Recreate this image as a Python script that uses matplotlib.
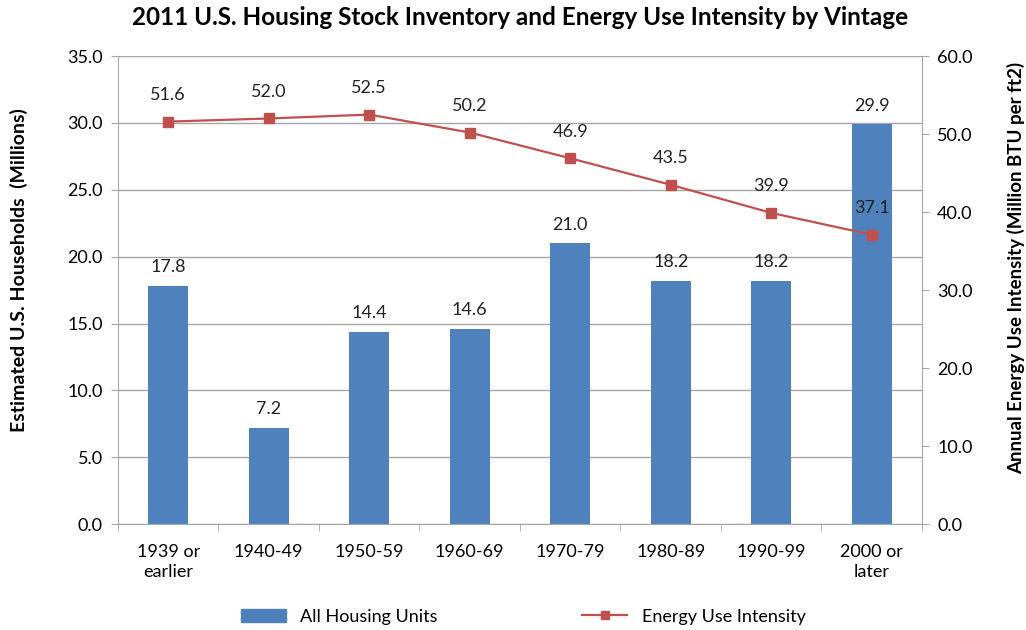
import numpy as np
import matplotlib.pyplot as plt
from matplotlib.lines import Line2D
from matplotlib.patches import Patch

plt.rcParams['font.family'] = ['Lato', 'DejaVu Sans']

# data
vintages = ['1939 or\nearlier', '1940-49', '1950-59', '1960-69',
            '1970-79', '1980-89', '1990-99', '2000 or\nlater']
households = [17.8, 7.2, 14.4, 14.6, 21.0, 18.2, 18.2, 29.9]
intensity = [51.6, 52.0, 52.5, 50.2, 46.9, 43.5, 39.9, 37.1]

BLUE = '#4F81BD'
RED = '#C0504D'
GRID = '#A6A6A6'
FS = 13

fig = plt.figure(figsize=(10.26, 6.3), dpi=100)
ax = fig.add_axes([0.115, 0.168, 0.7836, 0.743])
x = np.arange(len(vintages))

ax.bar(x, households, width=0.4, color=BLUE, zorder=2)
for xi, v in zip(x, households):
    ax.text(xi, v + 0.8, '%.1f' % v, ha='center', va='bottom', fontsize=FS, color='#222222')

ax.set_xlim(-0.5, len(vintages) - 0.5)
ax.set_ylim(0, 35)
ax.set_yticks(np.arange(0, 35.1, 5))
ax.set_yticklabels(['%.1f' % t for t in np.arange(0, 35.1, 5)], fontsize=FS)
ax.yaxis.grid(True, color=GRID, lw=1, zorder=0)
ax.set_axisbelow(True)
ax.set_xticks(x)
ax.set_xticklabels(vintages, fontsize=FS, linespacing=1.35)
ax.set_xticks(np.arange(-0.5, len(vintages)), minor=True)
ax.tick_params(axis='x', which='major', length=0, pad=14)
ax.tick_params(axis='x', which='minor', length=5, color=GRID)
ax.tick_params(axis='y', length=5, color=GRID, pad=6)
for s in ['top', 'right']:
    ax.spines[s].set_visible(False)
for s in ['left', 'bottom']:
    ax.spines[s].set_color(GRID)
ax.set_ylabel('Estimated U.S. Households  (Millions)', fontsize=14, fontweight='bold')
ax.yaxis.set_label_coords(-0.112, 0.543)

ax2 = ax.twinx()
ax2.plot(x, intensity, color=RED, lw=1.6, marker='s', markersize=7, zorder=3)
for xi, v in zip(x, intensity):
    ax2.text(xi, v + 2.4, '%.1f' % v, ha='center', va='bottom', fontsize=FS, color='#222222')
ax2.set_ylim(0, 60)
ax2.set_yticks(np.arange(0, 60.1, 10))
ax2.set_yticklabels(['%.1f' % t for t in np.arange(0, 60.1, 10)], fontsize=FS)
ax2.tick_params(axis='y', length=5, color=GRID, pad=6)
for s in ['top', 'left', 'bottom']:
    ax2.spines[s].set_visible(False)
ax2.spines['right'].set_color(GRID)
ax2.set_ylabel('Annual Energy Use Intensity (Million BTU per ft2)', fontsize=13.5,
               fontweight='bold', rotation=90, va='center')
ax2.yaxis.set_label_coords(1.117, 0.547)

fig.suptitle('2011 U.S. Housing Stock Inventory and Energy Use Intensity by Vintage',
             x=0.507, y=0.99, fontsize=17.5, fontweight='bold')

handles = [Patch(color=BLUE), Line2D([], [], color=RED, marker='s', markersize=6, lw=1.6)]
fig.legend(handles, ['All Housing Units', 'Energy Use Intensity'], loc='center',
           bbox_to_anchor=(0.51, 0.021), ncol=2, frameon=False, fontsize=FS,
           columnspacing=8, handlelength=2.5)

fig.savefig('out.png', dpi=100)
